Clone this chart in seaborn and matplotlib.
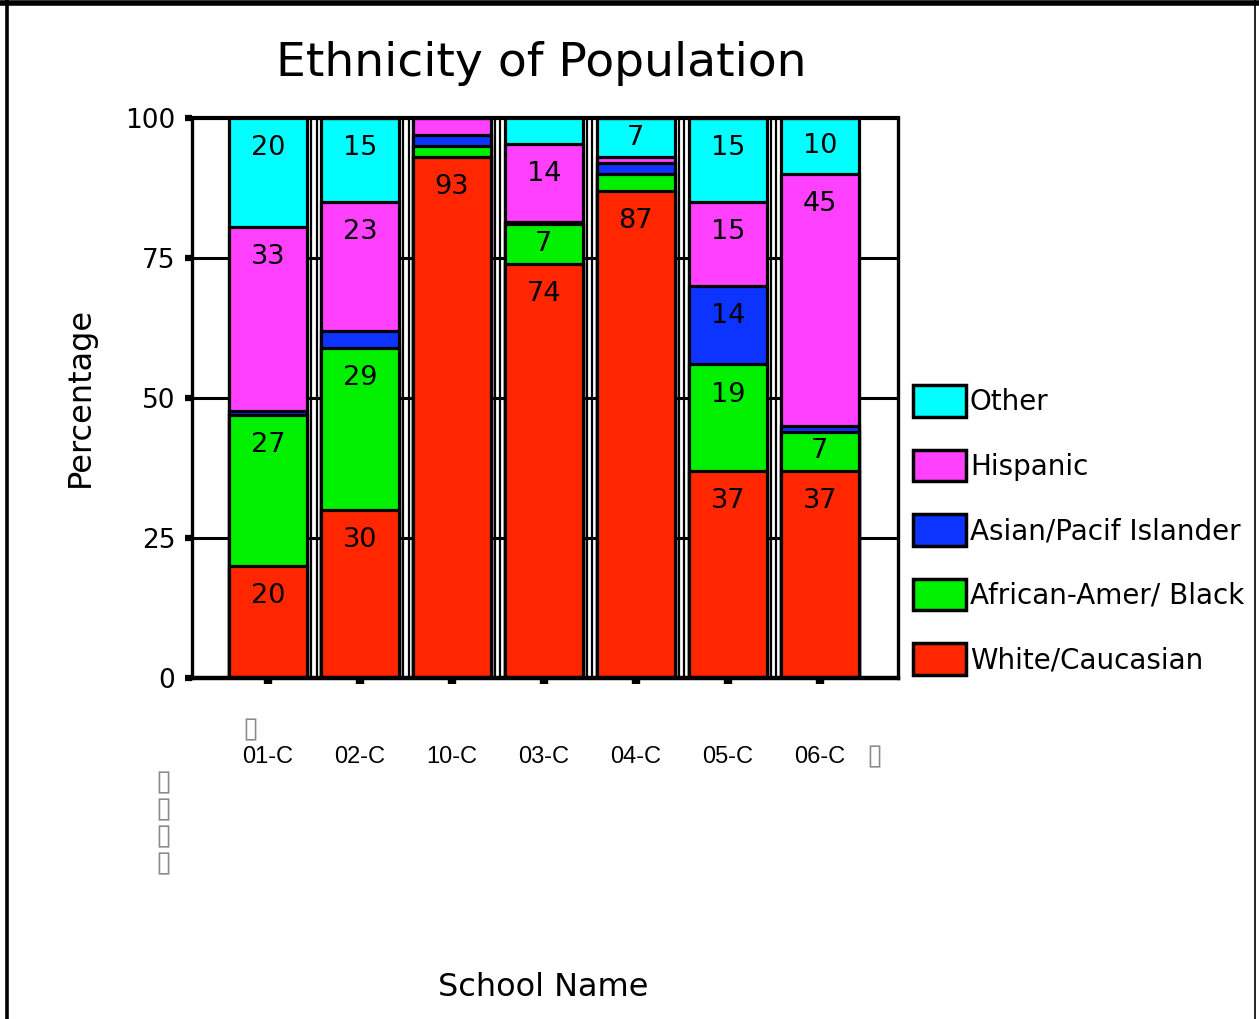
import numpy as np
import pandas as pd
import matplotlib
matplotlib.use("Agg")
import matplotlib.pyplot as plt
from matplotlib.patches import Patch
from matplotlib.lines import Line2D
import seaborn as sns

# School order along the x axis
schools = ["01-C", "02-C", "10-C", "03-C", "04-C", "05-C", "06-C"]

# Percent of each ethnic group per school (bottom to top of each stack)
white = [20, 30, 93, 74, 87, 37, 37]
black = [27, 29, 2, 7, 3, 19, 7]
asian = [0.6, 3, 2, 0.4, 2, 14, 1]
hispanic = [33, 23, 3, 14, 1, 15, 45]
other = [20, 15, 0, 6, 7, 15, 10]

groups = ["White/Caucasian", "African-Amer/ Black", "Asian/Pacif Islander",
          "Hispanic", "Other"]
colors = ["#ff2600", "#00f000", "#0c33ff", "#ff40ff", "#00ffff"]
yticks = [0, 25, 50, 75, 100]

sns.set_theme(style="white")
plt.rcParams["font.family"] = ["DejaVu Sans"]
plt.rcParams["text.color"] = "black"
plt.rcParams["axes.labelcolor"] = "black"
plt.rcParams["xtick.color"] = "black"
plt.rcParams["ytick.color"] = "black"

fig = plt.figure(figsize=(12.59, 10.19), dpi=100)
ax = fig.add_axes([192 / 1259, 1 - 678 / 1019, 706 / 1259, 560 / 1019])

layers = [white, black, asian, hispanic, other]
cum = np.cumsum(np.array(layers, dtype=float), axis=0)

# Horizontal reference lines behind the bars
for yv in (25, 50, 75):
    ax.axhline(yv, color="black", lw=2.2, zorder=0.5)

# Stacked bars: draw cumulative totals from the top layer down
for k in range(len(layers) - 1, -1, -1):
    df = pd.DataFrame({"school": schools, "cum": cum[k]})
    sns.barplot(data=df, x="school", y="cum", order=schools, color=colors[k],
                edgecolor="black", linewidth=2.3, width=0.85, ax=ax,
                saturation=1, zorder=2)

# Double separator lines between the bars
for i in range(len(schools) - 1):
    for dx in (-0.028, 0.028):
        ax.axvline(i + 0.5 + dx, color="black", lw=1.6, zorder=1.5)

# Value labels inside the segments
for k, vals in enumerate(layers):
    for i, v in enumerate(vals):
        if v >= 7:
            top = min(cum[k][i], 100)
            bottom = cum[k][i] - v
            yv = max(top - 5.4, (top + bottom) / 2)
            ax.text(i, yv, f"{int(v)}", ha="center", va="center",
                    fontsize=19.5, color="black", zorder=5)

ax.set_xlim(-0.826, 6.85)
ax.set_ylim(0, 100)
ax.set_xlabel("")
ax.set_ylabel("")

for side, lw in (("left", 2.4), ("bottom", 3.2), ("top", 3.0), ("right", 2.4)):
    ax.spines[side].set_visible(True)
    ax.spines[side].set_color("black")
    ax.spines[side].set_linewidth(lw)

ax.set_yticks(yticks)
ax.set_yticklabels([str(t) for t in yticks], fontsize=19)
ax.tick_params(axis="y", direction="out", length=5, width=4.5, pad=7,
               colors="black", left=True)
ax.set_xticks(range(len(schools)))
ax.set_xticklabels(schools, fontsize=17, family=["Liberation Sans"])
ax.tick_params(axis="x", direction="out", length=4, width=6, pad=45,
               colors="black", bottom=True)

# Title and axis titles
fig.text(541 / 1259, 1 - 63 / 1019, "Ethnicity of Population", fontsize=34,
         ha="center", va="center", color="black")
fig.text(80 / 1259, 1 - 397 / 1019, "Percentage", fontsize=23, rotation=90,
         ha="center", va="center", color="black")
fig.text(543 / 1259, 1 - 988 / 1019, "School Name", fontsize=23,
         ha="center", va="center", color="black")

# Unrendered characters around the category labels
for px, py in ((250, 729), (874, 756), (163, 782), (163, 809), (163, 836), (163, 863)):
    fig.text(px / 1259, 1 - py / 1019, "\u25af", fontsize=21, color="#8a8a8a",
             ha="center", va="center")

# Legend, top entry first
handles = [Patch(facecolor=colors[k], edgecolor="black", linewidth=2.5, label=groups[k])
           for k in range(len(groups) - 1, -1, -1)]
fig.legend(handles=handles, loc="upper left",
           bbox_to_anchor=(913 / 1259, 1 - 385 / 1019),
           bbox_transform=fig.transFigure, frameon=False, fontsize=20,
           handlelength=1.9, handleheight=1.37, labelspacing=1.19,
           handletextpad=0.15, borderpad=0, borderaxespad=0, labelcolor="black")

# Outer frame
fig.add_artist(Line2D([0, 1], [1 - 3 / 1019, 1 - 3 / 1019], transform=fig.transFigure,
                      color="black", lw=4))
fig.add_artist(Line2D([7 / 1259, 7 / 1259], [0, 1], transform=fig.transFigure,
                      color="black", lw=2.6))
fig.add_artist(Line2D([1255 / 1259, 1255 / 1259], [0, 1], transform=fig.transFigure,
                      color="black", lw=1.2))

fig.savefig("out.png", dpi=100, facecolor="white")
